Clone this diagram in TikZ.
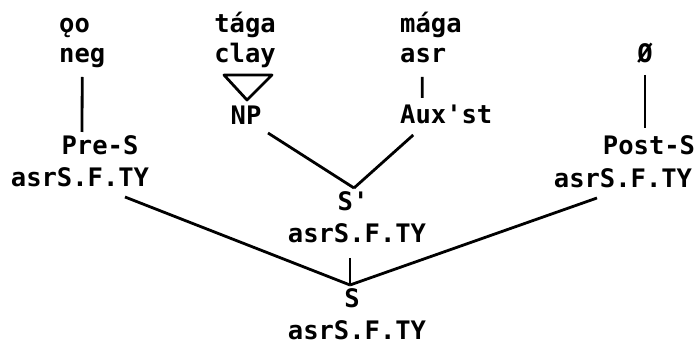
\documentclass[tikz,border=0pt]{standalone}
\usepackage{fontspec}
\setmonofont{DejaVu Sans Mono}
\begin{document}
\begin{tikzpicture}[x=1pt,y=1pt,
  lbl/.style={anchor=base,inner sep=0pt,font=\fontsize{25.5}{30}\selectfont\ttfamily\bfseries},
  lblw/.style={lbl,anchor=base west},
  edge/.style={line width=2.8pt},
  tick/.style={line width=2pt}]
\useasboundingbox (0,0) rectangle (699,348);
% top words
\node[lblw] (go) at (59,315) {ǫo};
\node[lblw] (neg) at (59,285) {neg};
\node[lbl] (taga) at (245,315) {tága};
\node[lbl] (clay) at (245,285) {clay};
\node[lblw] (maga) at (400,315) {mága};
\node[lblw] (asr) at (400,285) {asr};
\node[lbl] (null) at (645,285) {Ø};
% categories
\node[lbl] (NP) at (246,223) {NP};
\node[lblw] (Aux) at (400,224) {Aux'st};
\node[lbl] (PreS) at (100,193) {Pre-S};
\node[lbl] (lasr) at (80,161) {asrS.F.TY};
\node[lbl] (PostS) at (649,193) {Post-S};
\node[lbl] (rasr) at (623,160) {asrS.F.TY};
\node[lbl] (Sp) at (353,137) {S'};
\node[lbl] (sasr) at (357,105) {asrS.F.TY};
\node[lbl] (S) at (352,40) {S};
\node[lbl] (basr) at (357,8) {asrS.F.TY};
% connectors
\draw[edge] ([yshift=-14pt]neg.base) -- ([shift={(-18pt,23pt)}]PreS.base);
\draw[edge] ([shift={(-1pt,-14pt)}]asr.base) -- ([shift={(-24pt,26pt)}]Aux.base);
\draw[edge] ([yshift=-12pt]null.base) -- ([shift={(-4pt,27pt)}]PostS.base);
\draw[edge] ([shift={(22pt,-8pt)}]NP.base) -- ([shift={(1pt,23pt)}]Sp.base);
\draw[edge] ([shift={(-33pt,-11pt)}]Aux.base) -- ([shift={(1pt,23pt)}]Sp.base);
\draw[edge] ([shift={(45pt,-10pt)}]lasr.base) -- ([shift={(-2pt,23pt)}]S.base);
\draw[edge] ([shift={(-26pt,-10pt)}]rasr.base) -- ([shift={(-2pt,23pt)}]S.base);
\draw[tick] ([shift={(-7pt,-15pt)}]sasr.base) -- ([shift={(-2pt,23pt)}]S.base);
% triangle over NP
\draw[edge,line join=round] ([shift={(-22pt,50pt)}]NP.base) -- ([shift={(26pt,50pt)}]NP.base) -- ([shift={(1pt,25pt)}]NP.base) -- cycle;
\end{tikzpicture}
\end{document}
